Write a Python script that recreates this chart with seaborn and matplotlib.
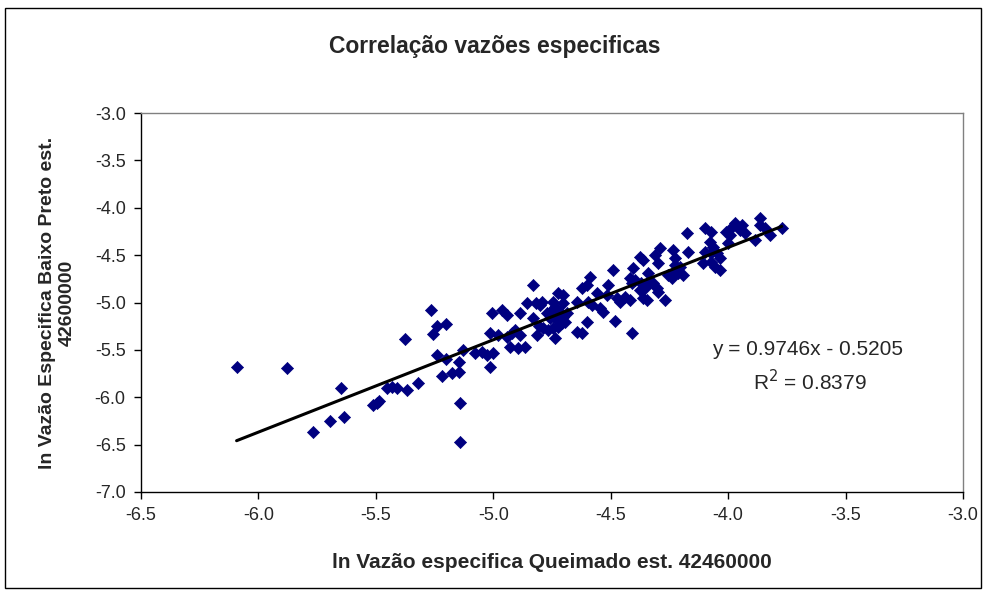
import matplotlib
matplotlib.use("Agg")
import matplotlib.pyplot as plt
import seaborn as sns
import numpy as np
import pandas as pd
from matplotlib.patches import Rectangle

# ln specific discharge, Queimado (x) vs Baixo Preto (y)
queimado = [
    -6.093, -5.877, -5.647, -5.767, -5.695, -5.635, -5.511, -5.497, -5.487, -5.454,
    -5.433, -5.412, -5.369, -5.321, -5.376, -5.267, -5.239, -5.202, -5.258, -5.239,
    -5.202, -5.148, -5.217, -5.175, -5.145, -5.142, -5.141, -5.128, -5.078, -5.050,
    -5.028, -5.000, -5.014, -5.007, -4.965, -4.943, -5.014, -4.979, -4.943, -4.922,
    -4.908, -4.887, -4.929, -4.894, -4.865, -4.887, -4.858, -4.816, -4.833, -4.831,
    -4.806, -4.814,
    -4.589, -4.511, -4.624, -4.603, -4.724, -4.702, -4.560, -4.794, -4.801, -4.745,
    -4.738, -4.752, -4.702, -4.645, -4.596, -4.581, -4.546, -4.532, -4.773, -4.759,
    -4.716, -4.702, -4.688, -4.730, -4.709, -4.695, -4.787, -4.766, -4.745, -4.724,
    -4.603, -4.645, -4.624, -4.738,
    -4.291, -4.312, -4.298, -4.234, -4.227, -4.376, -4.362, -4.489, -4.404, -4.340,
    -4.333, -4.319, -4.255, -4.234, -4.241, -4.418, -4.397, -4.411, -4.369, -4.376,
    -4.354, -4.305, -4.298, -4.517, -4.475, -4.461, -4.440, -4.418, -4.362, -4.347,
    -4.269, -4.482, -4.411,
    -4.177, -4.099, -4.071, -4.007, -3.993, -3.971, -3.943, -3.950, -4.078, -4.064,
    -4.071, -4.170, -4.099, -4.049, -4.035, -4.071, -4.106, -4.056, -4.035, -4.227,
    -4.205, -4.191, -4.213, -4.000, -3.929, -3.865, -3.865, -3.844, -3.822, -3.886,
    -3.772, -3.985,
]
baixo_preto = [
    -5.684, -5.694, -5.902, -6.370, -6.251, -6.212, -6.082, -6.058, -6.036, -5.906,
    -5.889, -5.899, -5.923, -5.853, -5.388, -5.079, -5.248, -5.230, -5.332, -5.554,
    -5.596, -5.625, -5.773, -5.741, -5.733, -6.058, -6.476, -5.501, -5.536, -5.519,
    -5.554, -5.536, -5.684, -5.114, -5.079, -5.132, -5.325, -5.343, -5.361, -5.325,
    -5.290, -5.343, -5.466, -5.483, -5.466, -5.108, -5.008, -5.008, -4.815, -5.164,
    -5.248, -5.343,
    -4.728, -4.815, -4.850, -4.815, -4.903, -4.921, -4.903, -4.992, -5.026, -4.992,
    -5.044, -5.079, -5.008, -4.992, -4.992, -5.026, -5.061, -5.097, -5.114, -5.167,
    -5.097, -5.150, -5.114, -5.185, -5.220, -5.203, -5.272, -5.290, -5.272, -5.255,
    -5.203, -5.308, -5.325, -5.378,
    -4.428, -4.499, -4.586, -4.446, -4.534, -4.517, -4.551, -4.657, -4.639, -4.692,
    -4.780, -4.797, -4.710, -4.692, -4.745, -4.745, -4.763, -4.797, -4.797, -4.868,
    -4.850, -4.850, -4.886, -4.921, -4.956, -4.992, -4.939, -4.974, -4.956, -4.974,
    -4.974, -5.192, -5.319,
    -4.263, -4.217, -4.253, -4.253, -4.288, -4.164, -4.182, -4.235, -4.358, -4.411,
    -4.481, -4.464, -4.464, -4.481, -4.534, -4.569, -4.586, -4.622, -4.657, -4.604,
    -4.622, -4.710, -4.692, -4.375, -4.270, -4.111, -4.182, -4.217, -4.288, -4.340,
    -4.217, -4.200,
]

# trendline as reported on the chart
slope = 0.9746
intercept = -0.5205
r2 = 0.8379

x_ticks = [-6.5, -6.0, -5.5, -5.0, -4.5, -4.0, -3.5, -3.0]
y_ticks = [-7.0, -6.5, -6.0, -5.5, -5.0, -4.5, -4.0, -3.5, -3.0]

df = pd.DataFrame({'queimado': queimado, 'baixo_preto': baixo_preto})

sns.set_style("white")
plt.rcParams['font.family'] = ['Liberation Sans', 'DejaVu Sans']

fig = plt.figure(figsize=(9.86, 5.91), dpi=100)
ax = fig.add_axes([141 / 986, 1 - 492 / 591, (963 - 141) / 986, (492 - 113) / 591])

# scatter of the stations
sns.scatterplot(data=df, x='queimado', y='baixo_preto', ax=ax, marker='D',
                color='#000080', edgecolor='#000080', s=38, linewidth=0.5, zorder=3)

# linear trendline over the data range
xs = np.array([df['queimado'].min(), df['queimado'].max()])
ax.plot(xs, slope * xs + intercept, color='black', linewidth=2.2, zorder=4)

ax.set_xlim(-6.5, -3.0)
ax.set_ylim(-7.0, -3.0)
ax.set_xticks(x_ticks)
ax.set_yticks(y_ticks)
ax.set_xticklabels(['%.1f' % t for t in x_ticks], fontsize=13)
ax.set_yticklabels(['%.1f' % t for t in y_ticks], fontsize=13)
ax.tick_params(axis='both', direction='out', length=5, width=1, color='black',
               bottom=True, left=True, pad=6)

for side in ['top', 'right']:
    ax.spines[side].set_color('#808080')
    ax.spines[side].set_linewidth(1)
for side in ['bottom', 'left']:
    ax.spines[side].set_color('black')
    ax.spines[side].set_linewidth(1)

ax.set_xlabel('ln Vazão especifica Queimado est. 42460000', fontsize=15,
              fontweight='bold', labelpad=21)
ax.set_ylabel('ln Vazão Especifica Baixo Preto est.\n42600000', fontsize=14,
              fontweight='bold', labelpad=14, linespacing=1.15)

fig.text(0.502, 0.922, 'Correlação vazões especificas', ha='center', va='center',
         fontsize=16.5, fontweight='bold')

# regression equation
ax.text(-3.66, -5.5, 'y = 0.9746x - 0.5205', ha='center', va='center', fontsize=15)
ax.text(-3.65, -5.84, 'R$^2$ = 0.8379', ha='center', va='center', fontsize=15)

# outer chart border
fig.patches.append(Rectangle((5 / 986, 3 / 591), 976 / 986, 580 / 591,
                             transform=fig.transFigure, fill=False,
                             edgecolor='black', linewidth=1))

fig.savefig('out.png', dpi=100)
